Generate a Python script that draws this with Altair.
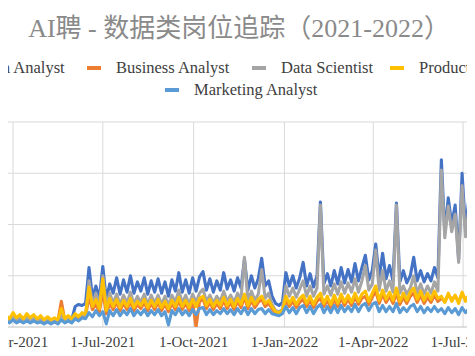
import altair as alt
import pandas as pd

TITLE = "AI聘 - 数据类岗位追踪（2021-2022）"
SERIES = ["Data Analyst", "Business Analyst", "Data Scientist", "Product Analyst", "Marketing Analyst"]
COLORS = ["#4472C4", "#ED7D31", "#A5A5A5", "#FFC000", "#5B9BD5"]

# twice-weekly readings starting 2021-03-25
START = "2021-03-25"
STEP = "84h"

DATA_ANALYST = [
    9, 6, 11, 7, 10, 7, 10, 7, 10, 6, 9, 6, 8, 6, 8, 6, 14, 7, 9, 7,
    20, 22, 21, 23, 58, 29, 40, 28, 59, 27, 42,
    33, 48, 32, 46, 34, 50, 33, 44, 35, 48, 32, 45, 34, 47, 33, 44, 30, 46, 35, 53,
    34, 46, 33, 48, 35, 49, 54, 36, 47, 34, 45, 36, 53, 37, 46, 35, 48, 38, 66, 36,
    50, 38, 47, 67, 40,
    45, 30, 23, 21, 24,
    53, 40, 50, 38, 48, 63, 40, 52, 39, 50, 122, 42, 52, 40, 55, 42, 58, 43, 56, 44,
    62, 45, 58, 70, 46,
    55, 81, 48, 72, 47, 60, 45, 121, 44, 55, 43, 50, 68, 45, 55, 44, 52, 45, 58, 48,
    163, 92, 126, 100, 119, 66, 150, 95, 126, 87, 112,
]
BUSINESS_ANALYST = [
    9, 6, 11, 7, 10, 6, 10, 7, 9, 6, 8, 5, 8, 5, 7, 6, 25, 6, 9, 6,
    11, 9, 12, 10, 30, 17, 22, 15, 35, 13, 23,
    17, 24, 16, 23, 17, 25, 16, 22, 18, 24, 16, 23, 17, 24, 16, 22, 15, 23, 17, 26,
    17, 23, 16, 24, 0, 25, 27, 18, 24, 17, 23, 18, 26, 18, 24, 17, 25, 19, 29, 18,
    26, 19, 24, 27, 20,
    23, 18, 13, 12, 14,
    26, 20, 25, 19, 24, 27, 20, 26, 19, 25, 28, 20, 26, 19, 27, 20, 28, 21, 27, 21,
    29, 22, 28, 30, 22,
    29, 35, 23, 32, 24, 30, 23, 33, 22, 29, 23, 30, 33, 24, 31, 23, 29, 24, 31, 25,
    28, 25, 31, 27, 30, 25, 32, 27, 30, 26, 29,
]
DATA_SCIENTIST = [
    8, 6, 10, 7, 9, 6, 9, 6, 9, 6, 8, 5, 7, 5, 7, 5, 12, 6, 8, 6,
    12, 10, 13, 11, 45, 22, 33, 22, 50, 20, 33,
    23, 32, 22, 31, 23, 34, 22, 30, 24, 32, 22, 31, 23, 31, 22, 30, 21, 31, 24, 36,
    23, 31, 22, 32, 24, 33, 37, 25, 31, 23, 30, 25, 35, 25, 31, 24, 33, 27, 68, 25,
    35, 26, 32, 56, 28,
    33, 22, 16, 15, 17,
    40, 30, 38, 29, 37, 45, 30, 40, 30, 38, 119, 32, 40, 31, 42, 32, 44, 33, 43, 34,
    47, 34, 45, 60, 36,
    42, 75, 36, 55, 35, 45, 34, 119, 33, 40, 32, 38, 50, 33, 42, 32, 40, 33, 44, 35,
    153, 87, 118, 93, 110, 63, 138, 88, 116, 85, 104,
]
PRODUCT_ANALYST = [
    11, 8, 14, 9, 12, 8, 13, 9, 12, 8, 11, 7, 10, 7, 9, 7, 18, 8, 11, 8,
    13, 10, 14, 12, 39, 20, 27, 18, 47, 16, 28,
    20, 27, 19, 26, 20, 28, 19, 25, 21, 27, 19, 26, 20, 27, 19, 25, 18, 26, 20, 29,
    20, 26, 19, 27, 20, 28, 30, 21, 27, 20, 26, 21, 29, 21, 27, 20, 28, 22, 32, 21,
    29, 22, 27, 30, 23,
    26, 20, 15, 14, 16,
    30, 23, 29, 22, 28, 31, 23, 30, 22, 29, 33, 23, 30, 22, 31, 23, 32, 24, 31, 24,
    33, 25, 32, 35, 25,
    33, 40, 26, 36, 27, 34, 26, 38, 25, 33, 26, 34, 38, 27, 35, 26, 33, 27, 35, 28,
    30, 24, 33, 25, 31, 23, 34, 25, 32, 24, 30,
]
MARKETING_ANALYST = [
    6, 4, 7, 4, 6, 4, 6, 4, 6, 4, 5, 3, 5, 3, 5, 3, 7, 4, 6, 4,
    8, 6, 9, 8, 14, 10, 16, 11, 15, 3, 16,
    11, 17, 11, 16, 12, 18, 11, 16, 12, 17, 11, 16, 12, 17, 11, 15, 2, 16, 12, 18,
    12, 16, 11, 17, 12, 18, 19, 12, 17, 12, 16, 13, 18, 13, 17, 12, 18, 13, 19, 12,
    18, 13, 17, 18, 13,
    17, 13, 12, 11, 13,
    20, 14, 19, 13, 19, 21, 14, 20, 13, 19, 22, 14, 20, 14, 21, 14, 21, 15, 20, 15,
    22, 15, 21, 23, 16,
    22, 24, 15, 21, 15, 20, 15, 23, 14, 19, 15, 20, 22, 15, 20, 14, 19, 15, 20, 15,
    18, 13, 19, 14, 18, 12, 19, 14, 18, 13, 17,
]

TICKS = ["2021-04-01", "2021-07-01", "2021-10-01", "2022-01-01", "2022-04-01", "2022-07-01"]
GRID_VALUES = [50, 100, 150, 200]

# ---------------- build ----------------
FONT = "Liberation Serif, Noto Sans CJK SC"
W, H, BOTTOM = 459, 319, 21

dates = pd.date_range(START, periods=len(DATA_ANALYST), freq=STEP)
rows = []
for name, vals in zip(SERIES, [DATA_ANALYST, BUSINESS_ANALYST, DATA_SCIENTIST, PRODUCT_ANALYST, MARKETING_ANALYST]):
    for d, v in zip(dates, vals):
        rows.append({"date": d, "series": name, "value": v})
df = pd.DataFrame(rows)

xs = alt.Scale(domain=[alt.DateTime(year=2021, month=3, date=26, hours=22, minutes=25),
                       alt.DateTime(year=2022, month=7, date=4, hours=23, minutes=40)])
ys = alt.Scale(domain=[0, 311.2], nice=False, zero=False)
cs = alt.Scale(domain=SERIES, range=COLORS)

tick_dt = [pd.Timestamp(t) for t in TICKS]
tick_df = pd.DataFrame({
    "date": tick_dt,
    "lo": 0,
    "hi": max(GRID_VALUES),
    "label": [f"{t.day}-{t.strftime('%b-%Y')}" for t in tick_dt],
})

hgrid = alt.Chart(pd.DataFrame({"v": GRID_VALUES})).mark_rule(color="#D9D9D9", strokeWidth=1).encode(
    y=alt.Y("v:Q", scale=ys, axis=None))

vgrid = alt.Chart(tick_df).mark_rule(color="#D9D9D9", strokeWidth=1).encode(
    x=alt.X("date:T", scale=xs, axis=None),
    y=alt.Y("lo:Q", scale=ys, axis=None), y2="hi:Q")

baseline = alt.Chart(pd.DataFrame({"v": [0]})).mark_rule(color="#BFBFBF", strokeWidth=1).encode(
    y=alt.Y("v:Q", scale=ys, axis=None))

xlabels = alt.Chart(tick_df).mark_text(
    align="center", baseline="middle", font=FONT, fontSize=15, color="#404040").encode(
    x=alt.X("date:T", scale=xs, axis=None), y=alt.value(H + 14.5), text="label:N")

lines = [
    alt.Chart(df).transform_filter(alt.datum.series == n).mark_line(
        strokeWidth=3.1, clip=True, strokeJoin="round").encode(
        x=alt.X("date:T", scale=xs, axis=None),
        y=alt.Y("value:Q", scale=ys, axis=None),
        color=alt.Color("series:N", scale=cs, legend=None))
    for n in SERIES
]

# legend layout (chart pixels): swatch left x, row y
LEG_X = [-58, 79, 244, 382, 157]
LEG_Y = [60, 60, 60, 60, 82]
leg_df = pd.DataFrame({"series": SERIES, "sx": LEG_X, "sx2": [x + 14 for x in LEG_X],
                       "tx": [x + 29 for x in LEG_X], "ly": LEG_Y})

leg_sw = alt.Chart(leg_df).mark_rule(strokeWidth=4).encode(
    x=alt.X("sx:Q", scale=None), x2="sx2:Q", y=alt.Y("ly:Q", scale=None),
    color=alt.Color("series:N", scale=cs, legend=None))
leg_tx = alt.Chart(leg_df).mark_text(align="left", baseline="middle", font=FONT,
                                     fontSize=16.5, color="#404040").encode(
    x=alt.X("tx:Q", scale=None), y=alt.Y("ly:Q", scale=None), text="series:N")

title = alt.Chart(pd.DataFrame({"t": [TITLE]})).mark_text(
    align="center", baseline="middle", font=FONT, fontSize=26, color="#8A8A8A").encode(
    x=alt.value(231), y=alt.value(21), text="t:N")

chart = alt.layer(hgrid, vgrid, baseline, *lines, xlabels, leg_sw, leg_tx, title).properties(
    width=W, height=H,
    autosize=alt.AutoSizeParams(type="none"),
    padding={"left": 0, "top": 0, "right": 0, "bottom": BOTTOM},
    background="white",
).configure_view(stroke=None)

chart.save("out.html", embed_options={"renderer": "svg", "actions": False})
